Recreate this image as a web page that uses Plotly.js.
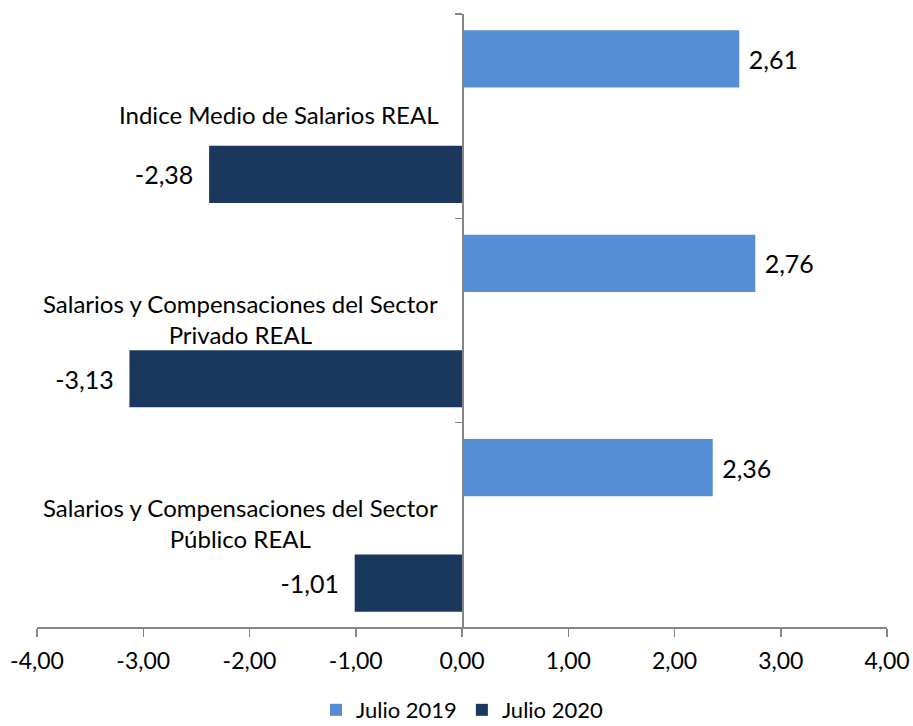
<!DOCTYPE html>
<html>
<head>
<meta charset="utf-8">
<script src="https://cdn.plot.ly/plotly-3.0.1.min.js"></script>
<style>html,body{margin:0;padding:0;background:#fff;}#chart{width:913px;height:726px;}</style>
</head>
<body>
<div id="chart"></div>
<script>
const categories = [
  "Indice Medio de Salarios REAL",
  "Salarios y Compensaciones del Sector<br>Privado REAL",
  "Salarios y Compensaciones del Sector<br>Público REAL"
];
const seriesNames = ["Julio 2019", "Julio 2020"];
const julio2019 = [2.61, 2.76, 2.36];
const julio2020 = [-2.38, -3.13, -1.01];
const xTicks = [-4, -3, -2, -1, 0, 1, 2, 3, 4];
const xTickLabels = ["-4,00", "-3,00", "-2,00", "-1,00", "0,00", "1,00", "2,00", "3,00", "4,00"];

const FONT = "Lato, 'Open Sans', sans-serif";
const AXIS = "#868686";
const NB = "\u00A0";

const traces = [
  {
    type: "bar", orientation: "h", name: seriesNames[0],
    x: julio2019, y: categories,
    marker: {color: "#558ED5"},
    width: 0.28, offset: -0.42,
    texttemplate: NB + "%{x:.2f}", textposition: "outside", cliponaxis: false,
    textfont: {family: FONT, size: 25, color: "#000"},
    hoverinfo: "x+y"
  },
  {
    type: "bar", orientation: "h", name: seriesNames[1],
    x: julio2020, y: categories,
    marker: {color: "#1A375E"},
    width: 0.28, offset: 0.145,
    texttemplate: "%{x:.2f}" + NB + NB, textposition: "outside", cliponaxis: false,
    textfont: {family: FONT, size: 25, color: "#000"},
    hoverinfo: "x+y"
  }
];

const annotations = categories.map((c, i) => ({
  x: 0, y: i, xref: "x", yref: "y",
  xanchor: "right", yanchor: "middle", xshift: -22, yshift: 2,
  text: c, showarrow: false, align: "center",
  font: {family: FONT, size: 24, color: "#000"}
}));

const layout = {
  width: 913, height: 726,
  margin: {l: 37, r: 26, t: 14, b: 99, autoexpand: false},
  paper_bgcolor: "#fff", plot_bgcolor: "#fff",
  separators: ",.",
  barmode: "overlay",
  font: {family: FONT, size: 22, color: "#000"},
  showlegend: true,
  legend: {
    orientation: "h", x: 0.5, xanchor: "center",
    yref: "container", y: 0.022, yanchor: "middle",
    font: {family: FONT, size: 22, color: "#000"},
    itemwidth: 30, tracegroupgap: 0
  },
  xaxis: {
    range: [-4, 4], tickvals: xTicks, ticktext: xTickLabels,
    showgrid: false, zeroline: false,
    showline: true, linecolor: AXIS, linewidth: 1.5,
    ticks: "outside", ticklen: 8, tickcolor: AXIS, tickwidth: 1.5,
    ticklabelstandoff: 5,
    tickfont: {family: FONT, size: 23, color: "#000"},
    anchor: "y", fixedrange: true
  },
  yaxis: {
    type: "category", autorange: false, range: [2.5, -0.5],
    anchor: "free", position: 0.5,
    showgrid: false, zeroline: false,
    showline: true, linecolor: AXIS, linewidth: 1.5,
    ticks: "outside", ticklen: 7, tickcolor: AXIS, tickwidth: 1.5,
    tickson: "boundaries",
    showticklabels: false, fixedrange: true
  },
  annotations: annotations
};

Plotly.newPlot("chart", traces, layout, {displayModeBar: false, staticPlot: true});
</script>
</body>
</html>
